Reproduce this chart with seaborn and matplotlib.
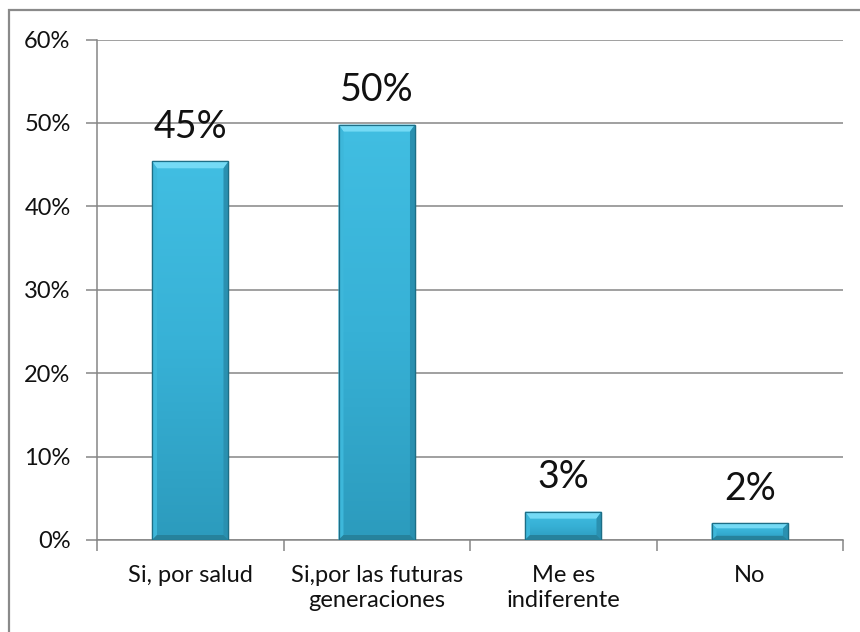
import numpy as np
import pandas as pd
import matplotlib
matplotlib.use("Agg")
import matplotlib.pyplot as plt
from matplotlib.patches import Polygon, Rectangle
from matplotlib.colors import LinearSegmentedColormap
import seaborn as sns

# Survey answers and their share of responses (%)
categorias = ["Si, por salud", "Si,por las futuras\ngeneraciones", "Me es\nindiferente", "No"]
porcentajes = [45.4, 49.8, 3.4, 2.0]
ticks_y = [0, 10, 20, 30, 40, 50, 60]
etiquetas_y = ["0%", "10%", "20%", "30%", "40%", "50%", "60%"]

sns.set_theme(style="white")
plt.rcParams["font.family"] = ["Lato", "DejaVu Sans"]

W, H = 860, 632
fig = plt.figure(figsize=(W / 100, H / 100), dpi=100)
left, right, bottom, top = 97, 843, 540, 39.5
ax = fig.add_axes([left / W, (H - bottom) / H, (right - left) / W, (bottom - top) / H])

df = pd.DataFrame({"respuesta": categorias, "pct": porcentajes})
sns.barplot(data=df, x="respuesta", y="pct", color="#34AED2", saturation=1,
            width=0.41, ax=ax, zorder=3)

ax.set_xlim(-0.5, 3.5)
ax.set_ylim(0, 60)
ax.set_xlabel("")
ax.set_ylabel("")

gris = "#868686"
# y axis: gridlines extend out as tick marks
ax.set_yticks(ticks_y)
ax.set_yticklabels(etiquetas_y)
ax.yaxis.grid(True, color=gris, lw=1.1, zorder=0)
ax.set_axisbelow(True)
ax.tick_params(axis="y", which="major", left=True, length=8, width=1.1,
               color=gris, pad=11, labelsize=17, labelcolor="#111111")

# x axis: tick marks at category boundaries, labels at centres
ax.set_xticks(np.arange(-0.5, 4.0, 1.0))
ax.set_xticklabels([])
ax.set_xticks(np.arange(len(categorias)), minor=True)
ax.set_xticklabels(categorias, minor=True)
ax.tick_params(axis="x", which="major", bottom=True, length=8, width=1.1, color=gris)
ax.tick_params(axis="x", which="minor", bottom=True, length=0, pad=18,
               labelsize=17, labelcolor="#111111")
for lab in ax.get_xticklabels(minor=True):
    lab.set_linespacing(1.25)

for s in ["top", "right"]:
    ax.spines[s].set_visible(False)
for s in ["left", "bottom"]:
    ax.spines[s].set_color(gris)
    ax.spines[s].set_linewidth(1.1)
    ax.spines[s].set_zorder(2)

# bevelled, shaded bar faces
cara = LinearSegmentedColormap.from_list("cara", ["#2C9BBD", "#37B1D6", "#41BEE2"])
grad = np.linspace(0, 1, 256).reshape(-1, 1)
px_x = 4.0 / (right - left)
px_y = 60.0 / (bottom - top)
for p, v in zip(list(ax.patches), porcentajes):
    x0, y0, w, h = p.get_x(), p.get_y(), p.get_width(), p.get_height()
    y1 = y0 + h
    p.set_edgecolor("#1D6E86")
    p.set_linewidth(0.9)
    im = ax.imshow(grad, extent=[x0, x0 + w, y0, y1], origin="lower", cmap=cara,
                   aspect="auto", zorder=3.1)
    im.set_clip_path(p)
    bx = 5 * px_x
    bt = min(7 * px_y, h * 0.3)
    bb = min(5 * px_y, h * 0.25)
    ax.add_patch(Polygon([(x0, y1), (x0 + w, y1), (x0 + w - bx, y1 - bt), (x0 + bx, y1 - bt)],
                         closed=True, facecolor="#74DAF5", edgecolor="none", zorder=3.2))
    ax.add_patch(Polygon([(x0, y1), (x0 + bx, y1 - bt), (x0 + bx, y0 + bb), (x0, y0)],
                         closed=True, facecolor="#3DB7DA", edgecolor="none", zorder=3.2))
    ax.add_patch(Polygon([(x0 + w, y1), (x0 + w - bx, y1 - bt), (x0 + w - bx, y0 + bb), (x0 + w, y0)],
                         closed=True, facecolor="#2A90B0", edgecolor="none", zorder=3.2))
    ax.add_patch(Polygon([(x0, y0), (x0 + bx, y0 + bb), (x0 + w - bx, y0 + bb), (x0 + w, y0)],
                         closed=True, facecolor="#26829C", edgecolor="none", zorder=3.2))
    ax.add_patch(Rectangle((x0, y0), w, h, fill=False, edgecolor="#1D6E86", lw=0.9, zorder=3.3))
    ax.annotate(f"{v:.0f}%", (p.get_x() + w / 2, y1), xytext=(0, 17),
                textcoords="offset points", ha="center", va="baseline",
                fontsize=27, color="#111111", zorder=5)

ax.set_xlim(-0.5, 3.5)
ax.set_ylim(0, 60)

# chart frame
fig.patches.append(Rectangle((9 / W, -0.1), 1.2, (H - 10) / H + 0.1,
                             transform=fig.transFigure, fill=False,
                             edgecolor="#8A8A8A", lw=1.6, zorder=0))

fig.savefig("out.png", dpi=100)
